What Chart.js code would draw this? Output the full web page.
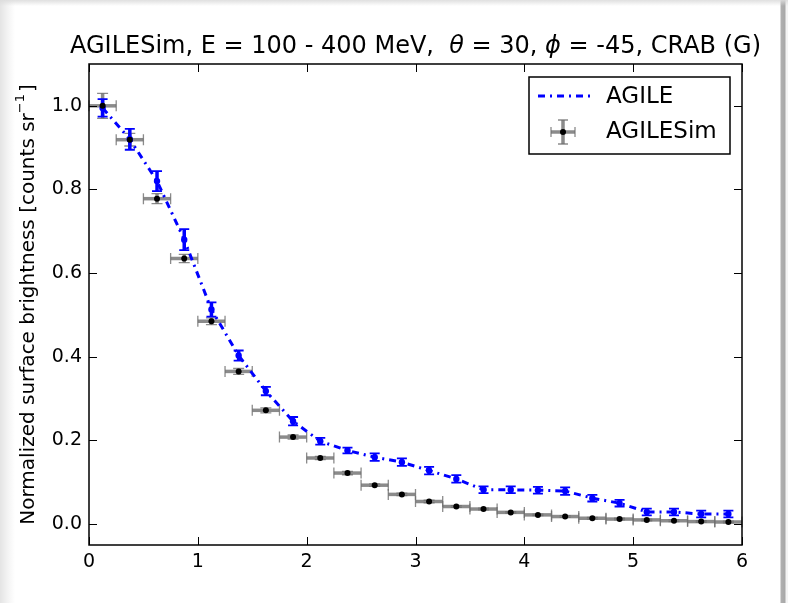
<!DOCTYPE html>
<html>
<head>
<meta charset="utf-8">
<script src="https://cdn.jsdelivr.net/npm/chart.js@4/dist/chart.umd.min.js"></script>
<style>
html,body{margin:0;padding:0;}
body{width:788px;height:603px;overflow:hidden;background:#fff;}
#bg{position:absolute;left:0;top:0;width:788px;height:603px;
 background:linear-gradient(to right,#e4e4e4 0px,#f4f4f4 8px,#ffffff 15px,#ffffff 780px,#b0b0b0 781px,#a8a8a8 785px,#f4f4f4 786px,#f4f4f4 788px);}
#bgt{position:absolute;left:0;top:0;width:788px;height:6px;
 background:linear-gradient(to bottom,rgba(220,220,220,0.9),rgba(255,255,255,0));}
#wrap{position:absolute;left:0;top:0;width:788px;height:603px;}
</style>
</head>
<body>
<div id="bg"></div>
<div id="bgt"></div>
<div id="wrap"><canvas id="c" width="788" height="603"></canvas></div>
<script>
// ---- data ----
const xBins = [0.125,0.375,0.625,0.875,1.125,1.375,1.625,1.875,2.125,2.375,2.625,2.875,3.125,3.375,3.625,3.875,4.125,4.375,4.625,4.875,5.125,5.375,5.625,5.875];
const agileValues = [0.995,0.920,0.820,0.680,0.513,0.403,0.318,0.246,0.198,0.176,0.160,0.148,0.128,0.108,0.082,0.082,0.081,0.079,0.062,0.050,0.029,0.029,0.024,0.024];
const agileErrors = [0.021,0.025,0.024,0.025,0.017,0.012,0.010,0.010,0.008,0.007,0.009,0.009,0.009,0.009,0.008,0.008,0.008,0.009,0.008,0.008,0.008,0.008,0.008,0.008];
const simValues = [1.000,0.919,0.778,0.635,0.485,0.365,0.272,0.208,0.158,0.122,0.093,0.071,0.054,0.042,0.036,0.028,0.022,0.018,0.014,0.012,0.010,0.008,0.006,0.005];
const simYErrors = [0.030,0.015,0.012,0.010,0.008,0.007,0.006,0.005,0.004,0.004,0.003,0.003,0.003,0.002,0.002,0.002,0.002,0.002,0.002,0.002,0.002,0.002,0.002,0.002];
const simXErrors = [0.125,0.125,0.125,0.125,0.125,0.125,0.125,0.125,0.125,0.125,0.125,0.125,0.125,0.125,0.125,0.125,0.125,0.125,0.125,0.125,0.125,0.125,0.125,0.125];
const xTicks = [0,1,2,3,4,5,6];
const yTicks = [0.0,0.2,0.4,0.6,0.8,1.0];
const seriesNames = ['AGILE','AGILESim'];
const titleParts = [['AGILESim, E = 100 - 400 MeV,  ',false],['θ',true],[' = 30, ',false],['ϕ',true],[' = -45, CRAB (G)',false]];
const yTitle = 'Normalized surface brightness [counts sr';
const yTitleSup = '−1';
const yTitleEnd = ']';

const FONT = '"DejaVu Sans", sans-serif';
const BLUE = '#0000ff';
const GREY = 'rgba(110,110,110,0.8)';

const agileData = xBins.map((x,i)=>({x:x,y:agileValues[i]}));
const simData = xBins.map((x,i)=>({x:x,y:simValues[i]}));

const decor = {
  id:'decor',
  beforeDatasetsDraw(chart){
    const ctx = chart.ctx, xs = chart.scales.x, ys = chart.scales.y;
    ctx.save();
    // grey error bars (AGILESim)
    ctx.strokeStyle = GREY;
    xBins.forEach((x,i)=>{
      const px = xs.getPixelForValue(x), py = ys.getPixelForValue(simValues[i]);
      const x0 = xs.getPixelForValue(x-simXErrors[i]), x1 = xs.getPixelForValue(x+simXErrors[i]);
      const y0 = ys.getPixelForValue(simValues[i]-simYErrors[i]), y1 = ys.getPixelForValue(simValues[i]+simYErrors[i]);
      ctx.lineWidth = 3.5;
      ctx.beginPath(); ctx.moveTo(x0,py); ctx.lineTo(x1,py); ctx.stroke();
      ctx.beginPath(); ctx.moveTo(px,y0); ctx.lineTo(px,y1); ctx.stroke();
      ctx.lineWidth = 1.3;
      ctx.beginPath(); ctx.moveTo(x0,py-5.5); ctx.lineTo(x0,py+5.5); ctx.moveTo(x1,py-5.5); ctx.lineTo(x1,py+5.5);
      ctx.moveTo(px-5.5,y0); ctx.lineTo(px+5.5,y0); ctx.moveTo(px-5.5,y1); ctx.lineTo(px+5.5,y1); ctx.stroke();
    });
    // blue error bars (AGILE)
    ctx.strokeStyle = BLUE;
    xBins.forEach((x,i)=>{
      const px = xs.getPixelForValue(x);
      const y0 = ys.getPixelForValue(agileValues[i]-agileErrors[i]), y1 = ys.getPixelForValue(agileValues[i]+agileErrors[i]);
      ctx.lineWidth = 3.5;
      ctx.beginPath(); ctx.moveTo(px,y0); ctx.lineTo(px,y1); ctx.stroke();
      ctx.lineWidth = 1.8;
      ctx.beginPath(); ctx.moveTo(px-5,y0); ctx.lineTo(px+5,y0); ctx.moveTo(px-5,y1); ctx.lineTo(px+5,y1); ctx.stroke();
    });
    ctx.restore();
  },
  afterDraw(chart){
    const ctx = chart.ctx, xs = chart.scales.x, ys = chart.scales.y, a = chart.chartArea;
    ctx.save();
    // inward ticks
    ctx.strokeStyle = '#000'; ctx.lineWidth = 1;
    xTicks.forEach(v=>{
      const p = Math.round(xs.getPixelForValue(v))+0.5;
      ctx.beginPath(); ctx.moveTo(p,a.bottom); ctx.lineTo(p,a.bottom-8); ctx.moveTo(p,a.top); ctx.lineTo(p,a.top+8); ctx.stroke();
    });
    yTicks.forEach(v=>{
      const p = Math.round(ys.getPixelForValue(v))+0.5;
      ctx.beginPath(); ctx.moveTo(a.left,p); ctx.lineTo(a.left+8,p); ctx.moveTo(a.right,p); ctx.lineTo(a.right-8,p); ctx.stroke();
    });
    // frame
    ctx.lineWidth = 1.5;
    ctx.strokeRect(a.left,a.top,a.right-a.left,a.bottom-a.top);
    // title
    ctx.fillStyle = '#000'; ctx.textBaseline = 'middle';
    let total = 0;
    titleParts.forEach(([t,it])=>{ ctx.font = (it?'italic ':'')+'24px '+FONT; total += ctx.measureText(t).width; });
    let tx = (a.left+a.right)/2 - total/2;
    ctx.textAlign = 'left';
    titleParts.forEach(([t,it])=>{ ctx.font = (it?'italic ':'')+'24px '+FONT; ctx.fillText(t,tx,47); tx += ctx.measureText(t).width; });
    // y title
    ctx.save();
    ctx.translate(29,(a.top+a.bottom)/2);
    ctx.rotate(-Math.PI/2);
    ctx.font = '20px '+FONT; const w1 = ctx.measureText(yTitle).width;
    ctx.font = '13px '+FONT; const w2 = ctx.measureText(yTitleSup).width;
    ctx.font = '20px '+FONT; const w3 = ctx.measureText(yTitleEnd).width;
    let sx = -(w1+w2+w3+2)/2;
    ctx.textAlign='left'; ctx.textBaseline='middle';
    ctx.fillText(yTitle,sx,0); sx+=w1;
    ctx.font = '13px '+FONT; ctx.fillText(yTitleSup,sx,-8); sx+=w2+2;
    ctx.font = '20px '+FONT; ctx.fillText(yTitleEnd,sx,0);
    ctx.restore();
    // legend
    const L = {x:529,y:77,w:201,h:77};
    ctx.fillStyle = '#fff'; ctx.fillRect(L.x,L.y,L.w,L.h);
    ctx.strokeStyle = '#000'; ctx.lineWidth = 1.5; ctx.strokeRect(L.x,L.y,L.w,L.h);
    ctx.strokeStyle = BLUE; ctx.lineWidth = 3; ctx.setLineDash([7,5,2,5]);
    ctx.beginPath(); ctx.moveTo(538,96); ctx.lineTo(590,96); ctx.stroke();
    ctx.setLineDash([]);
    ctx.strokeStyle = GREY; ctx.lineWidth = 3.5;
    ctx.beginPath(); ctx.moveTo(551,132); ctx.lineTo(575,132); ctx.moveTo(563,120); ctx.lineTo(563,144); ctx.stroke();
    ctx.lineWidth = 1.3;
    ctx.beginPath(); ctx.moveTo(551,127); ctx.lineTo(551,137); ctx.moveTo(575,127); ctx.lineTo(575,137);
    ctx.moveTo(558,120); ctx.lineTo(568,120); ctx.moveTo(558,144); ctx.lineTo(568,144); ctx.stroke();
    ctx.fillStyle = '#000'; ctx.beginPath(); ctx.arc(563,132,3,0,Math.PI*2); ctx.fill();
    ctx.font = '23px '+FONT; ctx.textAlign='left'; ctx.textBaseline='middle';
    ctx.fillText(seriesNames[0],606,97);
    ctx.fillText(seriesNames[1],606,132);
    ctx.restore();
  }
};

new Chart(document.getElementById('c'),{
  type:'scatter',
  data:{datasets:[
    {label:seriesNames[0],data:agileData,showLine:true,borderColor:BLUE,borderWidth:3,borderDash:[7,5,2,5],
     pointRadius:3.2,pointBackgroundColor:BLUE,pointBorderColor:BLUE,pointBorderWidth:0,order:1,clip:false},
    {label:seriesNames[1],data:simData,showLine:false,pointRadius:3,pointBackgroundColor:'#000',pointBorderColor:'#000',pointBorderWidth:0,order:0,clip:false}
  ]},
  options:{
    responsive:false,animation:false,
    layout:{padding:{left:0,top:64,right:46,bottom:0}},
    plugins:{legend:{display:false},title:{display:false},tooltip:{enabled:false}},
    scales:{
      x:{type:'linear',min:0,max:6,
        afterBuildTicks:s=>{s.ticks = xTicks.map(v=>({value:v}));},
        afterFit:s=>{s.height=58;},
        grid:{display:false,drawTicks:false},border:{display:false},
        ticks:{color:'#000',font:{family:FONT,size:19},padding:6,maxRotation:0,callback:v=>String(v)}},
      y:{type:'linear',min:-0.05,max:1.1,
        afterBuildTicks:s=>{s.ticks = yTicks.map(v=>({value:v}));},
        afterFit:s=>{s.width=89;},
        grid:{display:false,drawTicks:false},border:{display:false},
        ticks:{color:'#000',font:{family:FONT,size:19},padding:7,callback:v=>v.toFixed(1)}}
    }
  },
  plugins:[decor]
});
</script>
</body>
</html>
